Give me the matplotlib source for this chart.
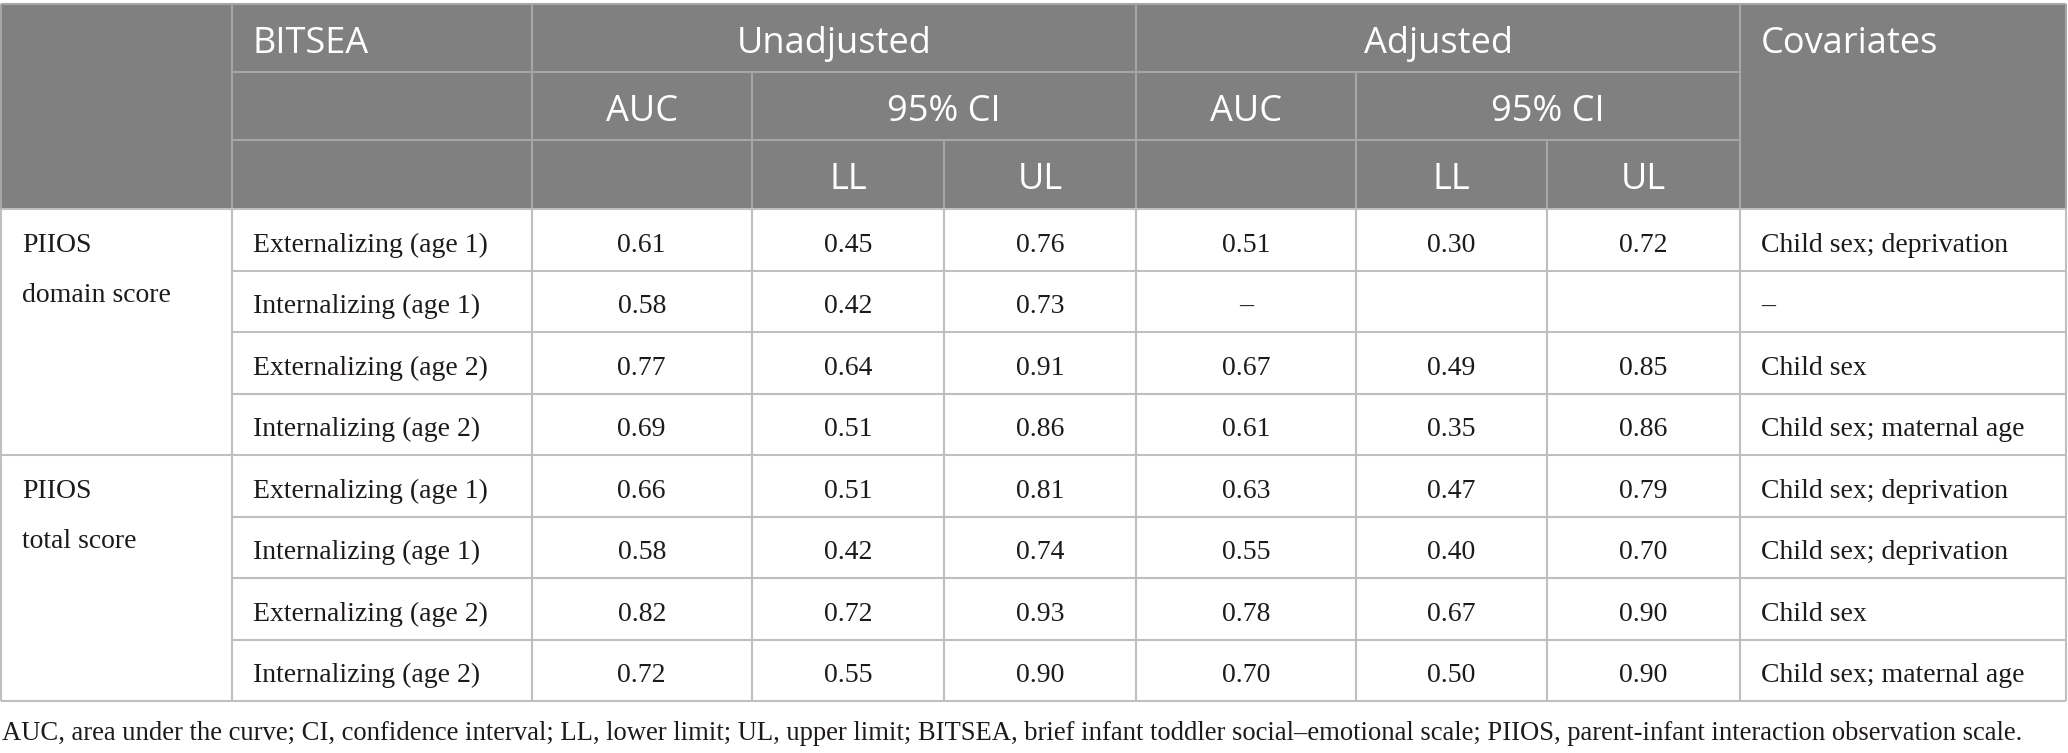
import matplotlib
matplotlib.use("Agg")
import matplotlib.pyplot as plt
from matplotlib.patches import Rectangle

# ---------------- data ----------------
groups = ["PIIOS", "PIIOS"]
group_sub = ["domain score", "total score"]
bitsea = ["Externalizing (age 1)", "Internalizing (age 1)",
          "Externalizing (age 2)", "Internalizing (age 2)",
          "Externalizing (age 1)", "Internalizing (age 1)",
          "Externalizing (age 2)", "Internalizing (age 2)"]
unadj_auc = [0.61, 0.58, 0.77, 0.69, 0.66, 0.58, 0.82, 0.72]
unadj_ll = [0.45, 0.42, 0.64, 0.51, 0.51, 0.42, 0.72, 0.55]
unadj_ul = [0.76, 0.73, 0.91, 0.86, 0.81, 0.74, 0.93, 0.90]
adj_auc = ["0.51", "–", "0.67", "0.61", "0.63", "0.55", "0.78", "0.70"]
adj_ll = ["0.30", "", "0.49", "0.35", "0.47", "0.40", "0.67", "0.50"]
adj_ul = ["0.72", "", "0.85", "0.86", "0.79", "0.70", "0.90", "0.90"]
covariates = ["Child sex; deprivation", "–", "Child sex", "Child sex; maternal age",
              "Child sex; deprivation", "Child sex; deprivation", "Child sex",
              "Child sex; maternal age"]
header_top = ["BITSEA", "Unadjusted", "Adjusted", "Covariates"]
header_mid = ["AUC", "95% CI"]
header_low = ["LL", "UL"]
footnote = ("AUC, area under the curve; CI, confidence interval; LL, lower limit; UL, upper limit; "
            "BITSEA, brief infant toddler social–emotional scale; PIIOS, parent-infant interaction observation scale.")

# ---------------- layout ----------------
W, H = 2068, 753
cols = [1, 232, 531.5, 752, 944, 1136, 1356, 1547, 1740, 2066]
hdr = [4, 72, 140, 209]
row_h = 61.5
n_rows = len(bitsea)
rows = [hdr[-1] + i * row_h for i in range(n_rows + 1)]

HEAD_BG = "#808080"
HEAD_LINE = "#a6a6a6"
GRID = "#bfbfbf"
TXT = "#1e1a1b"
serif = ["Liberation Serif", "DejaVu Serif"]
sans = ["Open Sans", "DejaVu Sans"]
FS = 20
FFS = 19.2
HFS = 26

fig = plt.figure(figsize=(W / 100, H / 100), dpi=100)
ax = fig.add_axes([0, 0, 1, 1])
ax.set_xlim(0, W)
ax.set_ylim(H, 0)
ax.axis("off")

# header background
ax.add_patch(Rectangle((cols[0], hdr[0]), cols[-1] - cols[0], hdr[-1] - hdr[0],
                       facecolor=HEAD_BG, edgecolor="none", zorder=0))

def hl(y, x0, x1, c, lw=1.5):
    ax.plot([x0, x1], [y, y], color=c, lw=lw, solid_capstyle="butt", zorder=2)

def vl(x, y0, y1, c, lw=1.5):
    ax.plot([x, x], [y0, y1], color=c, lw=lw, solid_capstyle="butt", zorder=2)

# header lines
hl(hdr[0], cols[0], cols[-1], HEAD_LINE)
for y in hdr[1:3]:
    hl(y, cols[1], cols[8], HEAD_LINE)
for x in [cols[1], cols[2], cols[5], cols[8]]:
    vl(x, hdr[0], hdr[3], HEAD_LINE)
for x in [cols[3], cols[6]]:
    vl(x, hdr[1], hdr[3], HEAD_LINE)
for x in [cols[4], cols[7]]:
    vl(x, hdr[2], hdr[3], HEAD_LINE)
vl(cols[0], hdr[0], hdr[3], HEAD_LINE)
vl(cols[-1], hdr[0], hdr[3], HEAD_LINE)

# body lines
for i, y in enumerate(rows):
    if i in (0, 4, n_rows):
        hl(y, cols[0], cols[-1], GRID)
    else:
        hl(y, cols[1], cols[-1], GRID)
for x in cols:
    vl(x, rows[0], rows[-1], GRID)

# header text
base_off = 49
ax.text(cols[1] + 21, hdr[0] + base_off, header_top[0], color="white", fontsize=HFS,
        family=sans, ha="left", va="baseline")
ax.text((cols[2] + cols[5]) / 2, hdr[0] + base_off, header_top[1], color="white",
        fontsize=HFS, family=sans, ha="center", va="baseline")
ax.text((cols[5] + cols[8]) / 2, hdr[0] + base_off, header_top[2], color="white",
        fontsize=HFS, family=sans, ha="center", va="baseline")
ax.text(cols[8] + 21, hdr[0] + base_off, header_top[3], color="white", fontsize=HFS,
        family=sans, ha="left", va="baseline")
for a, b, c in [(2, 3, 5), (5, 6, 8)]:
    ax.text((cols[a] + cols[b]) / 2, hdr[1] + base_off, header_mid[0], color="white",
            fontsize=HFS, family=sans, ha="center", va="baseline")
    ax.text((cols[b] + cols[c]) / 2, hdr[1] + base_off, header_mid[1], color="white",
            fontsize=HFS, family=sans, ha="center", va="baseline")
for a in (3, 6):
    for k in range(2):
        ax.text((cols[a + k] + cols[a + k + 1]) / 2, hdr[2] + base_off, header_low[k],
                color="white", fontsize=HFS, family=sans, ha="center", va="baseline")

# body text
boff = 42.7
for g in range(2):
    y = rows[g * 4] + boff
    ax.text(cols[0] + 21, y, groups[g], color=TXT, fontsize=FS, family=serif,
            ha="left", va="baseline")
    ax.text(cols[0] + 21, y + 50, group_sub[g], color=TXT, fontsize=FS, family=serif,
            ha="left", va="baseline")

for i in range(n_rows):
    y = rows[i] + boff
    ax.text(cols[1] + 21, y, bitsea[i], color=TXT, fontsize=FS, family=serif,
            ha="left", va="baseline")
    vals = [f"{unadj_auc[i]:.2f}", f"{unadj_ll[i]:.2f}", f"{unadj_ul[i]:.2f}",
            adj_auc[i], adj_ll[i], adj_ul[i]]
    for k, v in enumerate(vals):
        ax.text((cols[2 + k] + cols[3 + k]) / 2, y, v, color=TXT, fontsize=FS,
                family=serif, ha="center", va="baseline")
    ax.text(cols[8] + 21, y, covariates[i], color=TXT, fontsize=FS, family=serif,
            ha="left", va="baseline")

# footnote
ax.text(2, 740, footnote, color=TXT, fontsize=FFS, family=serif, ha="left", va="baseline")

fig.savefig("out.png", dpi=100, facecolor="white")
